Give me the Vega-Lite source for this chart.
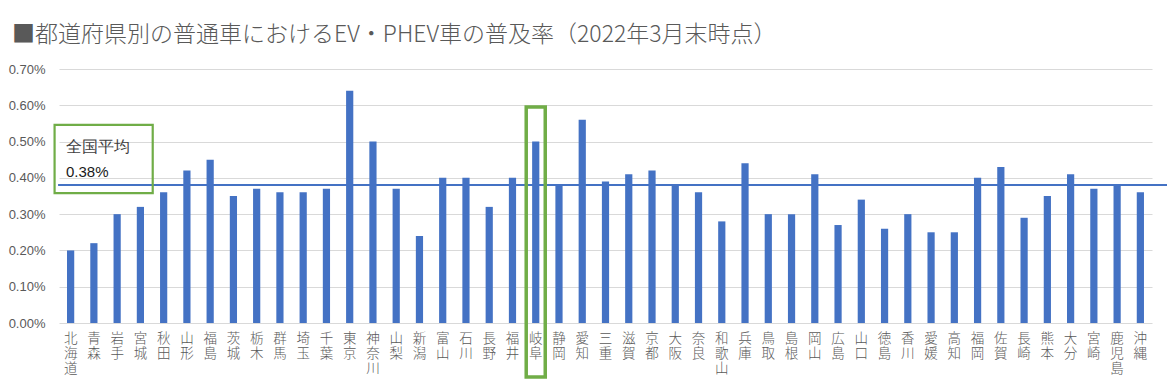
{
  "$schema": "https://vega.github.io/schema/vega-lite/v6.json",
  "width": 1093,
  "height": 254,
  "autosize": {"type": "none"},
  "padding": {"left": 59, "top": 69, "right": 15, "bottom": 62},
  "background": "white",
  "title": {
    "text": "■都道府県別の普通車におけるEV・PHEV車の普及率（2022年3月末時点）",
    "font": "Noto Sans CJK JP",
    "fontSize": 23,
    "fontWeight": 300,
    "color": "#595959",
    "anchor": "start",
    "frame": "group",
    "dx": -47,
    "offset": 16
  },
  "config": {
    "view": {"stroke": null},
    "axisY": {
      "title": null,
      "format": ".2%",
      "labelFont": "Liberation Sans",
      "labelFontSize": 13,
      "labelColor": "#595959",
      "labelPadding": 14,
      "labelOverlap": false,
      "labelFlush": false,
      "ticks": false,
      "domain": false,
      "gridColor": "#D9D9D9",
      "gridWidth": 1
    }
  },
  "datasets": {
    "pref": [
      {"pref": "北海道", "rate": 0.0020},
      {"pref": "青森", "rate": 0.0022},
      {"pref": "岩手", "rate": 0.0030},
      {"pref": "宮城", "rate": 0.0032},
      {"pref": "秋田", "rate": 0.0036},
      {"pref": "山形", "rate": 0.0042},
      {"pref": "福島", "rate": 0.0045},
      {"pref": "茨城", "rate": 0.0035},
      {"pref": "栃木", "rate": 0.0037},
      {"pref": "群馬", "rate": 0.0036},
      {"pref": "埼玉", "rate": 0.0036},
      {"pref": "千葉", "rate": 0.0037},
      {"pref": "東京", "rate": 0.0064},
      {"pref": "神奈川", "rate": 0.0050},
      {"pref": "山梨", "rate": 0.0037},
      {"pref": "新潟", "rate": 0.0024},
      {"pref": "富山", "rate": 0.0040},
      {"pref": "石川", "rate": 0.0040},
      {"pref": "長野", "rate": 0.0032},
      {"pref": "福井", "rate": 0.0040},
      {"pref": "岐阜", "rate": 0.0050},
      {"pref": "静岡", "rate": 0.0038},
      {"pref": "愛知", "rate": 0.0056},
      {"pref": "三重", "rate": 0.0039},
      {"pref": "滋賀", "rate": 0.0041},
      {"pref": "京都", "rate": 0.0042},
      {"pref": "大阪", "rate": 0.0038},
      {"pref": "奈良", "rate": 0.0036},
      {"pref": "和歌山", "rate": 0.0028},
      {"pref": "兵庫", "rate": 0.0044},
      {"pref": "鳥取", "rate": 0.0030},
      {"pref": "島根", "rate": 0.0030},
      {"pref": "岡山", "rate": 0.0041},
      {"pref": "広島", "rate": 0.0027},
      {"pref": "山口", "rate": 0.0034},
      {"pref": "徳島", "rate": 0.0026},
      {"pref": "香川", "rate": 0.0030},
      {"pref": "愛媛", "rate": 0.0025},
      {"pref": "高知", "rate": 0.0025},
      {"pref": "福岡", "rate": 0.0040},
      {"pref": "佐賀", "rate": 0.0043},
      {"pref": "長崎", "rate": 0.0029},
      {"pref": "熊本", "rate": 0.0035},
      {"pref": "大分", "rate": 0.0041},
      {"pref": "宮崎", "rate": 0.0037},
      {"pref": "鹿児島", "rate": 0.0038},
      {"pref": "沖縄", "rate": 0.0036}
    ],
    "highlight": [{"pref": "岐阜", "top": 0.00595, "bottom": -0.00149}],
    "avg": [{"avg": 0.0038, "x0": -0.04, "x1": 47.7}],
    "note": [{"x0": -0.19, "x1": 4.03, "y0": 0.00546, "y1": 0.00358}],
    "labels": [
      {"label": "全国平均", "x": 0.3, "y": 0.00471, "kind": "head"},
      {"label": "0.38%", "x": 0.3, "y": 0.00401, "kind": "value"}
    ]
  },
  "resolve": {"scale": {"x": "independent"}},
  "layer": [
    {
      "data": {"name": "pref"},
      "mark": {"type": "bar", "color": "#4472C4"},
      "encoding": {
        "x": {
          "field": "pref",
          "type": "nominal",
          "sort": null,
          "scale": {
            "domain": ["北海道","青森","岩手","宮城","秋田","山形","福島","茨城","栃木","群馬","埼玉","千葉","東京","神奈川","山梨","新潟","富山","石川","長野","福井","岐阜","静岡","愛知","三重","滋賀","京都","大阪","奈良","和歌山","兵庫","鳥取","島根","岡山","広島","山口","徳島","香川","愛媛","高知","福岡","佐賀","長崎","熊本","大分","宮崎","鹿児島","沖縄"],
            "paddingInner": 0.69,
            "paddingOuter": 0.345
          },
          "axis": {
            "title": null,
            "labelExpr": "split(datum.label, '')",
            "labelAngle": 0,
            "labelFont": "Noto Sans CJK JP",
            "labelFontSize": 13.5,
            "labelFontWeight": 300,
            "labelLineHeight": 15,
            "labelColor": "#595959",
            "labelPadding": 8,
            "labelBaseline": "top",
            "labelOverlap": false,
            "ticks": false,
            "domain": false,
            "grid": false
          }
        },
        "y": {
          "field": "rate",
          "type": "quantitative",
          "scale": {"domain": [0, 0.007], "nice": false},
          "axis": {"values": [0, 0.001, 0.002, 0.003, 0.004, 0.005, 0.006, 0.007], "tickCount": 20}
        }
      }
    },
    {
      "data": {"name": "avg"},
      "mark": {"type": "rule", "color": "#4472C4", "strokeWidth": 2},
      "encoding": {
        "x": {"field": "x0", "type": "quantitative", "scale": {"domain": [0, 47]}, "axis": null},
        "x2": {"field": "x1"},
        "y": {"field": "avg", "type": "quantitative", "scale": {"domain": [0, 0.007], "nice": false}, "axis": {"values": [0, 0.001, 0.002, 0.003, 0.004, 0.005, 0.006, 0.007], "tickCount": 20}}
      }
    },
    {
      "data": {"name": "note"},
      "mark": {"type": "rect", "filled": false, "stroke": "#70AD47", "strokeWidth": 2.2},
      "encoding": {
        "x": {"field": "x0", "type": "quantitative", "scale": {"domain": [0, 47]}, "axis": null},
        "x2": {"field": "x1"},
        "y": {"field": "y0", "type": "quantitative", "scale": {"domain": [0, 0.007], "nice": false}, "axis": {"values": [0, 0.001, 0.002, 0.003, 0.004, 0.005, 0.006, 0.007], "tickCount": 20}},
        "y2": {"field": "y1"}
      }
    },
    {
      "data": {"name": "labels"},
      "mark": {"type": "text", "align": "left", "baseline": "alphabetic"},
      "encoding": {
        "x": {"field": "x", "type": "quantitative", "scale": {"domain": [0, 47]}, "axis": null},
        "y": {"field": "y", "type": "quantitative", "scale": {"domain": [0, 0.007], "nice": false}, "axis": {"values": [0, 0.001, 0.002, 0.003, 0.004, 0.005, 0.006, 0.007], "tickCount": 20}},
        "text": {"field": "label"},
        "font": {"field": "kind", "type": "nominal", "scale": {"domain": ["head", "value"], "range": ["Noto Sans CJK JP", "Liberation Sans"]}, "legend": null},
        "size": {"field": "kind", "type": "nominal", "scale": {"domain": ["head", "value"], "range": [16, 15]}, "legend": null},
        "color": {"field": "kind", "type": "nominal", "scale": {"domain": ["head", "value"], "range": ["#404040", "#1a1a1a"]}, "legend": null}
      }
    },
    {
      "data": {"name": "highlight"},
      "mark": {"type": "bar", "filled": false, "stroke": "#70AD47", "strokeWidth": 3.5, "width": {"band": 2.64}},
      "encoding": {
        "x": {
          "field": "pref",
          "type": "nominal",
          "sort": null,
          "scale": {
            "domain": ["北海道","青森","岩手","宮城","秋田","山形","福島","茨城","栃木","群馬","埼玉","千葉","東京","神奈川","山梨","新潟","富山","石川","長野","福井","岐阜","静岡","愛知","三重","滋賀","京都","大阪","奈良","和歌山","兵庫","鳥取","島根","岡山","広島","山口","徳島","香川","愛媛","高知","福岡","佐賀","長崎","熊本","大分","宮崎","鹿児島","沖縄"],
            "paddingInner": 0.69,
            "paddingOuter": 0.345
          },
          "axis": null
        },
        "y": {"field": "top", "type": "quantitative", "scale": {"domain": [0, 0.007], "nice": false}, "axis": {"values": [0, 0.001, 0.002, 0.003, 0.004, 0.005, 0.006, 0.007], "tickCount": 20}},
        "y2": {"field": "bottom"}
      }
    }
  ]
}
